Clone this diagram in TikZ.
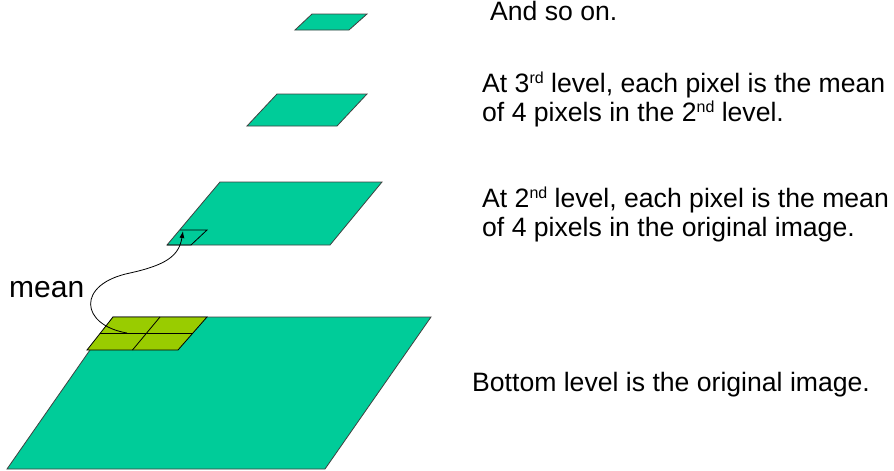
\documentclass[tikz,border=0pt]{standalone}
\usepackage{fontspec}
\setmainfont{Liberation Sans}
\usetikzlibrary{arrows.meta}
\definecolor{levelgreen}{RGB}{0,204,153}
\definecolor{cellgreen}{RGB}{153,204,0}
\definecolor{edgegray}{RGB}{64,64,64}
\newcommand{\smallsup}[1]{\raisebox{0.62ex}{\fontsize{16}{16}\selectfont #1}}

\begin{document}
\begin{tikzpicture}[
    x=1pt, y=-1pt,
    font=\fontsize{26.6}{28.5}\selectfont,
    level/.style={draw=edgegray, fill=levelgreen, line width=0.8pt},
    cell/.style={draw=black, fill=cellgreen, line width=0.8pt},
    note/.style={anchor=base west, inner sep=0pt, align=left},
    arrow/.style={-{Latex[length=7pt,width=5pt]}, draw=black, line width=0.8pt}
  ]
    \useasboundingbox (0,0) rectangle (894,471);
    % pyramid levels
    \draw[level] (7,469) -- (325,469) -- (431,317) -- (113,317) -- cycle;
    \draw[level] (167,245) -- (330,245) -- (382,182) -- (220,182) -- cycle;
    \draw[level] (247,126) -- (337,126) -- (367,94) -- (277,94) -- cycle;
    \draw[level] (295,30) -- (349,30) -- (367,14) -- (312,14) -- cycle;
    % 2x2 block of the original image
    \draw[cell] (113,317) -- (207,317) -- (178,350) -- (87,350) -- cycle;
    \draw[line width=0.8pt] (160,317) -- (132.5,350);
    \draw[line width=0.8pt] (100,333.5) -- (192.5,333.5);
    % one pixel of the 2nd level
    \draw[line width=0.8pt] (180,230) -- (207,230) -- (191,245) -- (167,245);
    \coordinate (block) at (127,333);
    \coordinate (pixel) at (183,231);
    \draw[arrow] (block) .. controls (80,325) and (76,284) .. (130,273)
      .. controls (166,265) and (179,256) .. (pixel);
    \node[note, font=\fontsize{30}{32}\selectfont] (mean) at (9,297) {mean};
    % captions (base = last line)
    \node[note] (others) at (490,20) {And so on.};
    \node[note] (third) at (482,121) {At 3\smallsup{rd} level, each pixel is the mean\\of 4 pixels in the 2\smallsup{nd} level.};
    \node[note] (second) at (482,236) {At 2\smallsup{nd} level, each pixel is the mean\\of 4 pixels in the original image.};
    \node[note] (bottom) at (472,391) {Bottom level is the original image.};
  \end{tikzpicture}
\end{document}
